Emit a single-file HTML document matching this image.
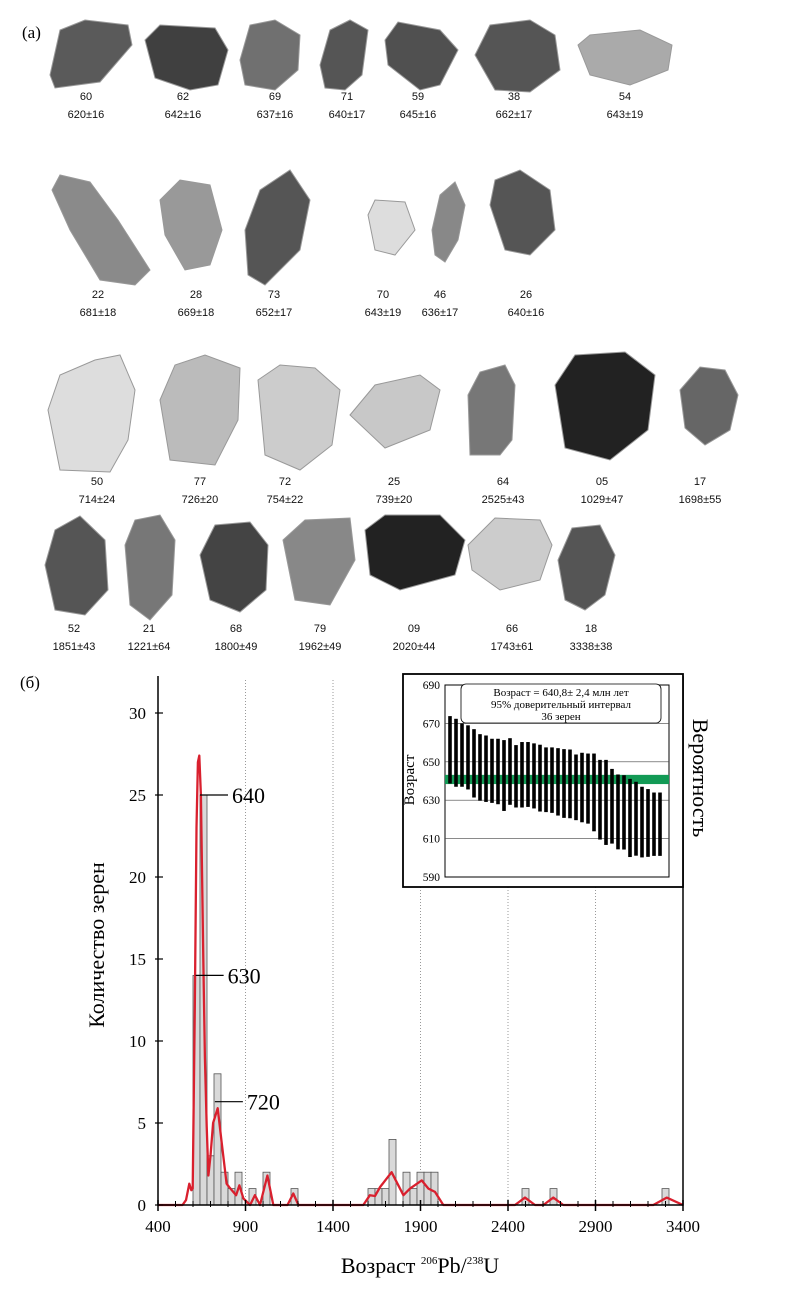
<!DOCTYPE html>
<html><head><meta charset="utf-8"><style>
body{margin:0;background:#fff;}
svg{display:block;font-family:"Liberation Serif",serif;}
.lab{font-family:"Liberation Sans",sans-serif;font-size:11px;text-anchor:middle;fill:#111}
</style></head><body>
<svg id="fig" width="790" height="1300" viewBox="0 0 790 1300">
<text x="22" y="38" font-size="17">(а)</text>
<text x="20" y="688" font-size="17">(б)</text>
<g id="grains"></g>
<g id="hist"></g>
<g id="inset"></g>
</svg>
<script>
const NS="http://www.w3.org/2000/svg";
function mk(parent,tag,attrs,text){const e=document.createElementNS(NS,tag);for(const k in attrs)e.setAttribute(k,attrs[k]);if(text!==undefined)e.textContent=text;parent.appendChild(e);return e;}

// ---- grains ----
const grainIds=["60","62","69","71","59","38","54","22","28","73","70","46","26","50","77","72","25","64","05","17","52","21","68","79","09","66","18"];
const grainAges=["620±16","642±16","637±16","640±17","645±16","662±17","643±19","681±18","669±18","652±17","643±19","636±17","640±16","714±24","726±20","754±22","739±20","2525±43","1029±47","1698±55","1851±43","1221±64","1800±49","1962±49","2020±44","1743±61","3338±38"];
const grainLabelX=[86,183,275,347,418,514,625,98,196,274,383,440,526,97,200,285,394,503,602,700,74,149,236,320,414,512,591];
const grainLabelY=[100,100,100,100,100,100,100,298,298,298,298,298,298,485,485,485,485,485,485,485,632,632,632,632,632,632,632];
const shapes=[
["50,75 60,30 85,20 128,25 132,45 100,82 55,88","#5a5a5a"],
["145,40 160,25 215,28 228,50 218,85 190,90 155,78","#404040"],
["240,60 250,25 275,20 300,35 298,70 275,90 245,85","#707070"],
["320,65 330,30 350,20 368,30 362,75 345,90 325,88","#555"],
["385,40 398,22 440,30 458,50 440,85 420,90 388,65","#505050"],
["475,55 490,25 530,20 555,35 560,70 530,92 495,90","#555"],
["578,45 590,35 640,30 672,45 668,70 630,85 590,75","#aaa"],
["52,190 60,175 90,182 118,220 150,270 135,285 100,280 70,230","#8a8a8a"],
["160,200 180,180 210,185 222,230 210,265 185,270 165,235","#999"],
["245,230 260,190 290,170 310,200 300,250 265,285 248,275","#555"],
["368,215 375,200 405,202 415,230 395,255 375,250","#ddd"],
["432,230 440,195 455,182 465,205 458,240 445,262 435,255","#888"],
["490,205 495,180 520,170 550,190 555,230 530,255 505,250","#555"],
["48,410 60,375 95,360 120,355 135,390 128,440 110,472 60,470","#ddd"],
["160,400 175,365 205,355 240,368 238,420 215,465 170,460","#bbb"],
["258,380 280,365 315,368 340,390 332,445 300,470 265,455","#ccc"],
["350,415 375,385 420,375 440,390 430,430 385,448","#c8c8c8"],
["468,395 480,372 505,365 515,385 512,440 500,455 470,455","#777"],
["555,385 575,355 625,352 655,375 648,430 610,460 565,448","#222"],
["680,390 700,367 725,370 738,395 730,430 705,445 685,428","#666"],
["45,565 55,530 80,516 105,540 108,590 85,615 55,610","#555"],
["125,545 135,520 160,515 175,540 172,595 150,620 130,605","#777"],
["200,555 215,525 250,522 268,545 266,590 240,612 210,600","#444"],
["283,540 305,520 350,518 355,560 330,605 295,600","#888"],
["365,530 385,515 440,515 465,540 455,575 400,590 370,575","#222"],
["468,545 495,518 540,520 552,545 540,580 500,590 472,570","#ccc"],
["558,560 572,528 600,525 615,555 605,595 585,610 565,600","#555"]];
const G=document.getElementById("grains");
shapes.forEach((s,i)=>{
 const p=mk(G,"polygon",{points:s[0],fill:s[1],stroke:"#999","stroke-width":"1"});
 
 
 const t1=mk(G,"text",{x:grainLabelX[i],y:grainLabelY[i],class:"lab"},grainIds[i]);
 
 
 const t2=mk(G,"text",{x:grainLabelX[i],y:grainLabelY[i]+18,class:"lab"},grainAges[i]);
 
 
});

// ---- histogram ----
const binStarts=[600,640,680,720,760,800,840,920,1000,1160,1600,1640,1680,1720,1800,1840,1880,1920,1960,2480,2640,3280];
const binCounts=[14,25,3,8,2,1,2,1,2,1,1,1,1,4,2,1,2,2,2,1,1,1];
const binWidth=40;
const curveAges=[400,540,560,579,590,598,610,620,628,636,645,652,659,668,678,688,700,715,741,764,792,806,846,865,888,926,954,983,1025,1059,1140,1173,1202,1573,1611,1640,1669,1735,1802,1840,1907,1945,1983,2030,2440,2497,2554,2602,2659,2716,3230,3307,3400];
const curveVals=[0,0,0.3,1.3,0.9,1.0,12,23,27,27.4,25,20,15,9,4.8,1.8,3,5,5.9,3.8,1.3,1.1,0.6,1.2,0.4,0,0.6,0,1.8,0,0,0.7,0,0,0.6,0.55,1.1,2.0,0.6,1.0,1.5,1.0,0.8,0,0,0.45,0,0,0.45,0,0,0.45,0];
const yTicks=[0,5,10,15,20,25,30];
const xTicks=[400,900,1400,1900,2400,2900,3400];
const peakLabels=["640","630","720"];
const peakLabelVals=[25,14,6.3];
const peakLabelAges=[640,615,725];

const H=document.getElementById("hist");
const X0=158,X1=683,Y0=1205;
const xs=a=>X0+(a-400)*(X1-X0)/3000;
const ys=v=>Y0-v*16.4;
xTicks.slice(1,-1).forEach(t=>{const l=mk(H,"line",{x1:xs(t),x2:xs(t),y1:680,y2:Y0,stroke:"#999","stroke-dasharray":"1,2","stroke-width":"1"});});
binStarts.forEach((b,i)=>{
 const r=mk(H,"rect",{x:xs(b),y:ys(binCounts[i]),width:xs(b+binWidth)-xs(b),height:Y0-ys(binCounts[i]),fill:"#d9d9d9",stroke:"#555","stroke-width":"0.8"});
 
 
});
const pts=curveAges.map((a,i)=>xs(a).toFixed(1)+","+ys(curveVals[i]).toFixed(1)).join(" ");
const pl=mk(H,"polyline",{points:pts,fill:"none",stroke:"#d9202e","stroke-width":"2.3","stroke-linejoin":"round"});


const ax=mk(H,"path",{d:`M${X0},676 V${Y0} H${X1} V676`,fill:"none",stroke:"#000","stroke-width":"1.5"});


yTicks.forEach(t=>{
 mk(H,"line",{x1:X0-3,x2:X0+5,y1:ys(t),y2:ys(t),stroke:"#000","stroke-width":"1.2"});
 const tl=mk(H,"text",{x:X0-12,y:ys(t)+6,"font-size":"17","text-anchor":"end"},String(t));
 
 
});
for(let a=500;a<3400;a+=100){mk(H,"line",{x1:xs(a),x2:xs(a),y1:Y0-4,y2:Y0+2,stroke:"#000","stroke-width":"1"});}
xTicks.forEach(t=>{
 mk(H,"line",{x1:xs(t),x2:xs(t),y1:Y0-5,y2:Y0+6,stroke:"#000","stroke-width":"1.5"});
 const tl=mk(H,"text",{x:xs(t),y:Y0+27,"font-size":"17","text-anchor":"middle"},String(t));
 
 
});
peakLabels.forEach((s,i)=>{
 const x=xs(peakLabelAges[i]),y=ys(peakLabelVals[i]);
 mk(H,"line",{x1:x,x2:x+28,y1:y,y2:y,stroke:"#000","stroke-width":"1.2"});
 const t=mk(H,"text",{x:x+32,y:y+8,"font-size":"22"},s);
 
 
});
const yt=mk(H,"text",{x:0,y:0,"font-size":"22","text-anchor":"middle",transform:"translate(104,945) rotate(-90)"},"Количество зерен");

const rt=mk(H,"text",{x:0,y:0,"font-size":"22","text-anchor":"middle",transform:"translate(693,778) rotate(90)"},"Вероятность");

const xt=mk(H,"text",{x:420,y:1273,"font-size":"22","text-anchor":"middle"});

xt.innerHTML='Возраст <tspan font-size="11" dy="-9">206</tspan><tspan dy="9">Pb/</tspan><tspan font-size="11" dy="-9">238</tspan><tspan dy="9">U</tspan>';

// ---- inset ----
const insetHi=[673.8,672.4,670,669,667,664.4,663.7,662,662,661.3,662.3,658.7,660.3,660.3,659.6,658.9,657.5,657.5,657.1,656.6,656.4,653.8,654.7,654.3,654.3,651,651,646.3,643.4,643,641.1,639.6,637,635.8,634,634];
const insetLo=[638.7,637,637,635.6,631.4,629.7,629.1,628.6,627.9,624.4,627.6,626.2,626.2,626.5,625.7,624.1,623.8,623.4,622,620.8,620.6,619.6,618.5,617.8,613.8,609.5,606.7,607.4,604.4,604.3,600.4,601.1,600.2,600.5,601,601];
const insetTicks=[590,610,630,650,670,690];
const meanAge=640.8, meanErr=2.4;
const I=document.getElementById("inset");
const IX0=445,IX1=669,IY=a=>877-(a-590)*(192/100);
const box=mk(I,"rect",{x:403,y:674,width:280,height:213,fill:"#fff",stroke:"#000","stroke-width":"1.8"});

mk(I,"rect",{x:IX0,y:IY(690),width:IX1-IX0,height:IY(590)-IY(690),fill:"#fff",stroke:"#000","stroke-width":"1"});
insetTicks.forEach(t=>{
 if(t>590&&t<690)mk(I,"line",{x1:IX0,x2:IX1,y1:IY(t),y2:IY(t),stroke:"#444","stroke-width":"0.6"});
 const tl=mk(I,"text",{x:IX0-5,y:IY(t)+4,"font-size":"11.5","text-anchor":"end"},String(t));
 
});
const band=mk(I,"rect",{x:IX0,y:IY(meanAge+meanErr),width:IX1-IX0,height:IY(meanAge-meanErr)-IY(meanAge+meanErr),fill:"#129a55"});

const n=insetHi.length, step=(IX1-IX0-14)/(n-1);
insetHi.forEach((h,i)=>{
 const x=IX0+5+i*step;
 const r=mk(I,"rect",{x:x-1.8,y:IY(h),width:3.6,height:IY(insetLo[i])-IY(h),fill:"#000"});
 
 
});
const lb=mk(I,"rect",{x:461,y:684,width:200,height:39,rx:5,fill:"#fff",stroke:"#000","stroke-width":"0.8"});

[["Возраст = 640,8±  2,4  млн лет",696],["95% доверительный интервал",708],["36 зерен",720]].forEach(s=>{
 const t=mk(I,"text",{x:561,y:s[1],"font-size":"11","text-anchor":"middle"},s[0]);
 
});
const iy=mk(I,"text",{x:0,y:0,"font-size":"15","text-anchor":"middle",transform:"translate(414,780) rotate(-90)"},"Возраст");

</script>
</body></html>
